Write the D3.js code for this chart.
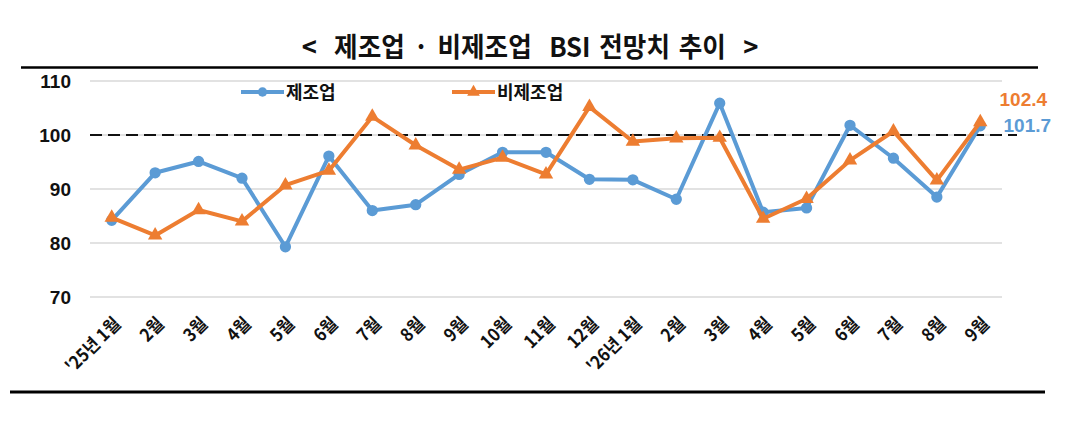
<!DOCTYPE html>
<html><head><meta charset="utf-8">
<script src="https://cdn.jsdelivr.net/npm/d3@7/dist/d3.min.js"></script>
<style>body{margin:0;background:#fff}svg{display:block}</style>
</head><body><svg id="c" width="1088" height="428"></svg>
<script>
const categories = ["'25년 1월","2월","3월","4월","5월","6월","7월","8월","9월","10월","11월","12월","'26년 1월","2월","3월","4월","5월","6월","7월","8월","9월"];
const manufacturing = [84.2,93.0,95.1,92.0,79.3,96.1,86.0,87.1,92.7,96.8,96.8,91.8,91.7,88.1,105.9,85.7,86.5,101.8,95.7,88.5,101.7];
const nonManufacturing = [84.7,81.4,86.1,84.0,90.7,93.4,103.4,98.1,93.6,95.8,92.7,105.2,98.8,99.4,99.5,84.5,88.2,95.3,100.7,91.6,102.4];
const yTicks = [70,80,90,100,110];
const seriesNames = ["제조업","비제조업"];
const title = "<  제조업 · 비제조업  BSI 전망치 추이  >";

const BLUE = "#5B9BD5", ORANGE = "#ED7D31";
const FONT = "'Noto Sans CJK KR','Noto Sans',sans-serif";
const NARROW = "'Liberation Sans Narrow','Liberation Sans',sans-serif";
const svg = d3.select("#c");
const x = d3.scaleBand().domain(d3.range(categories.length)).range([90,1002]);
const cx = i => x(i) + x.bandwidth()/2;
const y = d3.scaleLinear().domain([70,110]).range([297,81]);

// title
svg.append("text").attr("x",530).attr("y",57).attr("text-anchor","middle")
  .attr("font-family",FONT).attr("font-weight",700).attr("font-size",27).attr("fill","#111")
  .style("white-space","pre").attr("word-spacing",3)
  .attr("transform","translate(530,0) scale(0.95,1) translate(-530,0)").text(title);
// rules
svg.append("line").attr("x1",21).attr("x2",1038).attr("y1",67.5).attr("y2",67.5).attr("stroke","#000").attr("stroke-width",2.5);
svg.append("line").attr("x1",10).attr("x2",1045).attr("y1",392).attr("y2",392).attr("stroke","#000").attr("stroke-width",3);

// gridlines
svg.append("g").selectAll("line").data(yTicks).join("line")
  .attr("x1",90).attr("x2",1002).attr("y1",d=>y(d)).attr("y2",d=>y(d))
  .attr("stroke","#d9d9d9").attr("stroke-width",1.5);
// y labels
const yAxis = d3.axisLeft(y).tickValues(yTicks).tickSize(0).tickPadding(0);
const ya = svg.append("g").attr("transform","translate(71,0)").call(yAxis);
ya.select(".domain").remove();
ya.selectAll("text").attr("font-family",NARROW).attr("font-weight",700)
  .attr("font-size",19).attr("fill","#111").attr("dy","0.35em");

// dashed 100 line
svg.append("line").attr("x1",90).attr("x2",1017).attr("y1",y(100)).attr("y2",y(100))
  .attr("stroke","#111").attr("stroke-width",2).attr("stroke-dasharray","12,6");

// x labels
const xa = svg.append("g").attr("transform","translate(0,300)")
  .call(d3.axisBottom(x).tickSize(0).tickPadding(0).tickFormat(i=>categories[i]));
xa.select(".domain").remove();
xa.selectAll("text").attr("font-family",FONT).attr("font-weight",700).attr("font-size",18).attr("fill","#111")
  .attr("text-anchor","end").attr("dy",0)
  .attr("transform","translate(10,25) rotate(-45) scale(0.92,1)");

const line = d3.line().x((d,i)=>cx(i)).y(d=>y(d));
// series
function drawSeries(vals,color,marker){
  svg.append("path").datum(vals).attr("d",line).attr("fill","none").attr("stroke",color)
    .attr("stroke-width",4).attr("stroke-linejoin","round");
  const sym = d3.symbol().type(marker).size(marker===d3.symbolCircle?100:90);
  svg.append("g").selectAll("path").data(vals).join("path")
    .attr("transform",(d,i)=>`translate(${cx(i)},${y(d)})`).attr("d",sym).attr("fill",color);
}
drawSeries(manufacturing,BLUE,d3.symbolCircle);
drawSeries(nonManufacturing,ORANGE,d3.symbolTriangle);

// end labels
const last = categories.length-1;
svg.append("text").attr("x",cx(last)+43).attr("y",y(nonManufacturing[last])-16).attr("text-anchor","middle")
  .attr("font-family",NARROW).attr("font-weight",700).attr("font-size",19)
  .attr("fill",ORANGE).text(nonManufacturing[last].toFixed(1));
svg.append("text").attr("x",cx(last)+47).attr("y",y(manufacturing[last])+6).attr("text-anchor","middle")
  .attr("font-family",NARROW).attr("font-weight",700).attr("font-size",19)
  .attr("fill",BLUE).text(manufacturing[last].toFixed(1));

// legend
const legend = [{n:seriesNames[0],c:BLUE,m:d3.symbolCircle,x:241},{n:seriesNames[1],c:ORANGE,m:d3.symbolTriangle,x:452}];
const lg = svg.append("g").selectAll("g").data(legend).join("g").attr("transform",d=>`translate(${d.x},92)`);
lg.append("line").attr("x1",0).attr("x2",43).attr("stroke",d=>d.c).attr("stroke-width",4);
lg.append("path").attr("transform","translate(21.5,0)").attr("d",d=>d3.symbol().type(d.m).size(70)()).attr("fill",d=>d.c);
lg.append("text").attr("x",45).attr("y",7).attr("font-family",FONT).attr("font-weight",700).attr("font-size",18)
  .attr("fill","#111").text(d=>d.n);
</script></body></html>
